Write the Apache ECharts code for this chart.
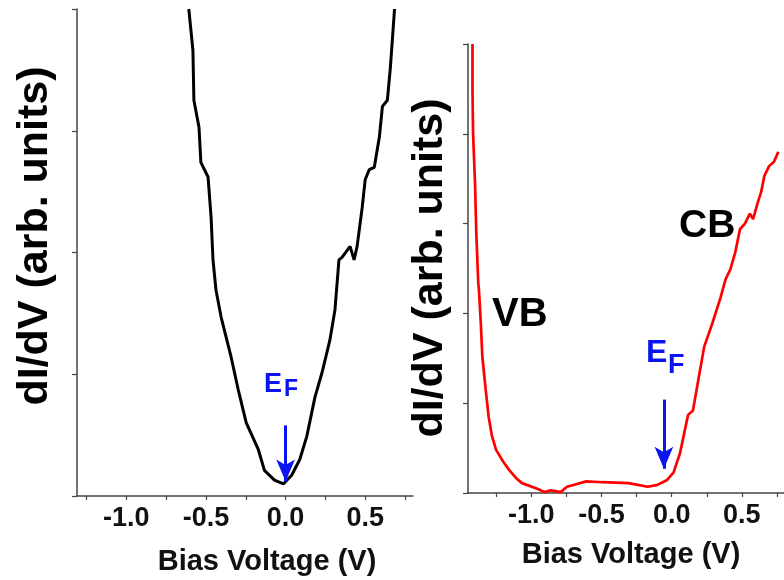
<!DOCTYPE html>
<html>
<head>
<meta charset="utf-8">
<script src="https://cdn.jsdelivr.net/npm/echarts@6/dist/echarts.min.js"></script>
<style>
  html, body { margin: 0; padding: 0; background: #fff; }
  #chart { width: 784px; height: 580px; }
</style>
</head>
<body>
<div id="chart"></div>
<script>
// left panel (black) - bias in V, dI/dV in arb. units
var leftBias = [-0.608, -0.582, -0.576, -0.544, -0.532, -0.487, -0.468, -0.456, -0.437, -0.405,
  -0.342, -0.297, -0.247, -0.171, -0.133, -0.070, -0.013, 0.038, 0.089, 0.133,
  0.184, 0.228, 0.278, 0.310, 0.335, 0.354, 0.405, 0.430, 0.449, 0.481,
  0.500, 0.525, 0.557, 0.589, 0.608, 0.639, 0.658, 0.684];
var leftDidv = [4.00, 3.66, 3.25, 3.03, 2.74, 2.62, 2.29, 1.94, 1.69, 1.47,
  1.14, 0.87, 0.60, 0.38, 0.21, 0.13, 0.10, 0.17, 0.30, 0.49,
  0.81, 1.01, 1.28, 1.53, 1.94, 1.96, 2.05, 1.94, 2.05, 2.37,
  2.60, 2.68, 2.70, 2.95, 3.20, 3.25, 3.52, 4.00];

// right panel (red)
var rightBias = [-1.418, -1.418, -1.414, -1.400, -1.391, -1.377, -1.372, -1.359, -1.348, -1.324,
  -1.303, -1.280, -1.250, -1.200, -1.159, -1.110, -1.066, -0.952, -0.906, -0.860,
  -0.791, -0.745, -0.607, -0.492, -0.308, -0.170, -0.101, -0.032, 0.014, 0.060,
  0.094, 0.117, 0.152, 0.186, 0.232, 0.290, 0.347, 0.384, 0.418, 0.453,
  0.487, 0.522, 0.557, 0.580, 0.614, 0.637, 0.660, 0.694, 0.729, 0.760];
var rightDidv = [5.00, 4.49, 4.01, 3.45, 2.90, 2.34, 2.26, 1.90, 1.52, 1.15,
  0.85, 0.64, 0.48, 0.35, 0.26, 0.17, 0.11, 0.045, 0.01, 0.03,
  0.01, 0.07, 0.13, 0.12, 0.11, 0.07, 0.09, 0.145, 0.23, 0.445,
  0.70, 0.87, 0.92, 1.225, 1.63, 1.89, 2.17, 2.38, 2.49, 2.68,
  2.94, 3.00, 3.11, 3.05, 3.24, 3.35, 3.53, 3.64, 3.69, 3.80];

var xLabelValues = [-1.0, -0.5, 0.0, 0.5];
var xTickValues = [-1.25, -1.0, -0.75, -0.5, -0.25, 0.0, 0.25, 0.5, 0.75];

var FONT = 'Liberation Sans, Arial, sans-serif';

function zip(a, b) {
  return a.map(function (v, i) { return [v, b[i]]; });
}

function xAxisFor(gridIndex, min, max) {
  return {
    type: 'value', gridIndex: gridIndex, min: min, max: max,
    splitLine: { show: false },
    axisLine: { onZero: false, lineStyle: { color: '#444', width: 1.5 } },
    axisTick: { length: 4, customValues: xTickValues, lineStyle: { color: '#444', width: 1.2 } },
    axisLabel: {
      customValues: xLabelValues, margin: 9,
      color: '#111', fontFamily: FONT, fontWeight: 'bold', fontSize: 27,
      formatter: function (v) { return v.toFixed(1); }
    }
  };
}

function yAxisFor(gridIndex, max) {
  return {
    type: 'value', gridIndex: gridIndex, min: 0, max: max, interval: 1,
    splitLine: { show: false },
    axisLine: { show: true, onZero: false, lineStyle: { color: '#444', width: 1.5 } },
    axisTick: { show: true, length: 5, lineStyle: { color: '#444', width: 1.2 } },
    axisLabel: { show: false }
  };
}

function label(text, x, y, size, color, rotate, align) {
  return {
    type: 'text', x: x, y: y, rotation: rotate ? Math.PI / 2 : 0,
    style: {
      text: text, fill: color, font: 'bold ' + size + 'px ' + FONT,
      textAlign: align || 'center', textVerticalAlign: 'middle'
    }
  };
}

var chart = echarts.init(document.getElementById('chart'));
chart.setOption({
  animation: false,
  backgroundColor: '#fff',
  grid: [
    { left: 77, top: 9, width: 336, height: 487 },
    { left: 468, top: 44, width: 326, height: 449 }
  ],
  xAxis: [xAxisFor(0, -1.31, 0.80), xAxisFor(1, -1.45, 0.80)],
  yAxis: [yAxisFor(0, 4), yAxisFor(1, 5)],
  series: [
    {
      type: 'line', xAxisIndex: 0, yAxisIndex: 0,
      data: zip(leftBias, leftDidv), showSymbol: false, smooth: false,
      lineStyle: { color: '#000', width: 3 },
      markLine: {
        silent: true, symbol: ['none', 'arrow'], symbolSize: [14, 22],
        label: { show: false },
        lineStyle: { color: '#0a14f0', width: 3, type: 'solid' },
        data: [[{ coord: [0.0, 0.58] }, { coord: [0.0, 0.12] }]]
      }
    },
    {
      type: 'line', xAxisIndex: 1, yAxisIndex: 1,
      data: zip(rightBias, rightDidv), showSymbol: false, smooth: false,
      lineStyle: { color: '#ff0000', width: 2.7 },
      markLine: {
        silent: true, symbol: ['none', 'arrow'], symbolSize: [14, 22],
        label: { show: false },
        lineStyle: { color: '#0a14f0', width: 3, type: 'solid' },
        data: [[{ coord: [-0.055, 1.04] }, { coord: [-0.055, 0.27] }]]
      }
    }
  ],
  graphic: [
    label('dI/dV (arb. units)', 35, 236, 43, '#000', true),
    label('dI/dV (arb. units)', 430, 268, 43, '#000', true),
    label('Bias Voltage (V)', 267, 562, 29, '#111'),
    label('Bias Voltage (V)', 631, 555, 29, '#111'),
    label('VB', 492, 315, 40, '#000', false, 'left'),
    label('CB', 679, 226, 39, '#000', false, 'left'),
    label('E', 264, 385, 27, '#0a14f0', false, 'left'),
    label('F', 284, 390, 23, '#0a14f0', false, 'left'),
    label('E', 646, 353, 32, '#0a14f0', false, 'left'),
    label('F', 668, 366, 27, '#0a14f0', false, 'left')
  ]
});
</script>
</body>
</html>
